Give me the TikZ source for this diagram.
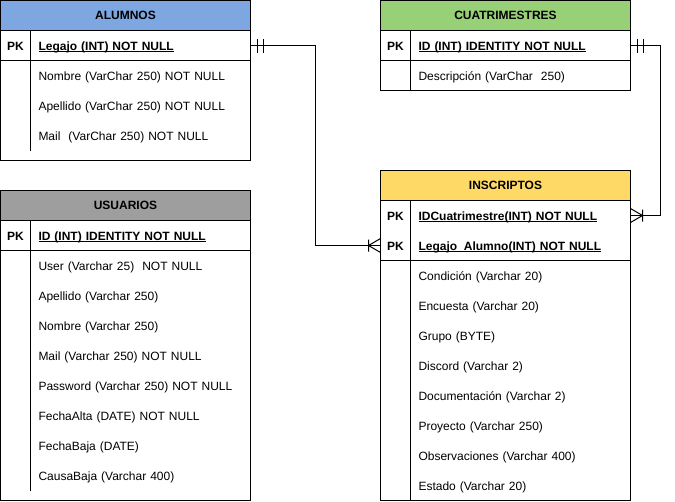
\documentclass[tikz,border=0pt]{standalone}
\usepackage{fontspec}
\setmainfont{Liberation Sans}
\usetikzlibrary{positioning}

\definecolor{alumnoscolor}{HTML}{7EA6E0}
\definecolor{cuatricolor}{HTML}{97D077}
\definecolor{usuarioscolor}{HTML}{9E9E9E}
\definecolor{inscriptoscolor}{HTML}{FFD966}

\newcommand{\tabfont}{\fontsize{12}{14}\selectfont}
\newcommand{\keyul}[1]{\setbox0\hbox{#1}\rlap{\rule[-1.4pt]{\wd0}{0.8pt}}\box0}

\begin{document}
\begin{tikzpicture}[x=1pt, y=-1pt, line width=1pt]
		\tikzset{
			table/.style={draw, anchor=north west, minimum width=250, inner sep=0, outer sep=0},
			head/.style={table, minimum height=30, font=\tabfont\bfseries},
			field/.style={anchor=west, text width=210, align=left, inner sep=0, outer sep=0, minimum height=30, text height=10pt, text depth=0pt, font=\tabfont},
			keyfield/.style={field, font=\tabfont\bfseries},
			pk/.style={inner sep=0, text height=9.5pt, text depth=0pt, font=\tabfont\bfseries},
			relation/.style={draw, line width=1pt},
			mandone/.pic={\draw (7,-7) -- (7,7) (13,-7) -- (13,7);},
			crowmany/.pic={\draw (0,-7) -- (12,0) -- (0,7) (12,-6) -- (12,6);}
		}
		\useasboundingbox (-0.5,-0.5) rectangle (674.5,500.5);

		% ALUMNOS
		\node[head, fill=alumnoscolor] (alumnos) at (0,0) {ALUMNOS};
		\node[table, minimum height=30, below=0 of alumnos] (alumnos-keys) {};
		\node[table, minimum height=100, below=0 of alumnos-keys] (alumnos-body) {};
		\draw ([xshift=30pt]alumnos-keys.north west) -- ([xshift=30pt, yshift=10pt]alumnos-body.south west);
		\node[pk] (alumnos-pk) at ([xshift=15pt]alumnos-keys.west) {PK};
		\node[keyfield] (alumnos-legajo) at ([xshift=38pt]alumnos-keys.west) {\keyul{Legajo (INT) NOT NULL}};
		\node[field, below=0 of alumnos-legajo] (alumnos-nombre) {Nombre (VarChar 250) NOT NULL};
		\node[field, below=0 of alumnos-nombre] (alumnos-apellido) {Apellido (VarChar 250) NOT NULL};
		\node[field, below=0 of alumnos-apellido] (alumnos-mail) {Mail\ \ (VarChar 250) NOT NULL};

		% CUATRIMESTRES
		\node[head, fill=cuatricolor] (cuatri) at (380,0) {CUATRIMESTRES};
		\node[table, minimum height=30, below=0 of cuatri] (cuatri-keys) {};
		\node[table, minimum height=30, below=0 of cuatri-keys] (cuatri-body) {};
		\draw ([xshift=30pt]cuatri-keys.north west) -- ([xshift=30pt]cuatri-body.south west);
		\node[pk] (cuatri-pk) at ([xshift=15pt]cuatri-keys.west) {PK};
		\node[keyfield] (cuatri-id) at ([xshift=38pt]cuatri-keys.west) {\keyul{ID (INT) IDENTITY NOT NULL}};
		\node[field, below=0 of cuatri-id] (cuatri-desc) {Descripción (VarChar\ \ 250)};

		% USUARIOS
		\node[head, fill=usuarioscolor] (usuarios) at (0,190) {USUARIOS};
		\node[table, minimum height=30, below=0 of usuarios] (usuarios-keys) {};
		\node[table, minimum height=250, below=0 of usuarios-keys] (usuarios-body) {};
		\draw ([xshift=30pt]usuarios-keys.north west) -- ([xshift=30pt, yshift=10pt]usuarios-body.south west);
		\node[pk] (usuarios-pk) at ([xshift=15pt]usuarios-keys.west) {PK};
		\node[keyfield] (usuarios-id) at ([xshift=38pt]usuarios-keys.west) {\keyul{ID (INT) IDENTITY NOT NULL}};
		\node[field, below=0 of usuarios-id] (usuarios-user) {User (Varchar 25)\ \ NOT NULL};
		\node[field, below=0 of usuarios-user] (usuarios-apellido) {Apellido (Varchar 250)};
		\node[field, below=0 of usuarios-apellido] (usuarios-nombre) {Nombre (Varchar 250)};
		\node[field, below=0 of usuarios-nombre] (usuarios-mail) {Mail (Varchar 250) NOT NULL};
		\node[field, below=0 of usuarios-mail] (usuarios-password) {Password (Varchar 250) NOT NULL};
		\node[field, below=0 of usuarios-password] (usuarios-alta) {FechaAlta (DATE) NOT NULL};
		\node[field, below=0 of usuarios-alta] (usuarios-baja) {FechaBaja (DATE)};
		\node[field, below=0 of usuarios-baja] (usuarios-causa) {CausaBaja (Varchar 400)};

		% INSCRIPTOS
		\node[head, fill=inscriptoscolor] (inscriptos) at (380,170) {INSCRIPTOS};
		\node[table, minimum height=60, below=0 of inscriptos] (inscriptos-keys) {};
		\node[table, minimum height=240, below=0 of inscriptos-keys] (inscriptos-body) {};
		\draw ([xshift=30pt]inscriptos-keys.north west) -- ([xshift=30pt]inscriptos-body.south west);
		\node[keyfield] (inscriptos-cuatri) at ([xshift=38pt, yshift=-15pt]inscriptos-keys.north west) {\keyul{IDCuatrimestre(INT) NOT NULL}};
		\node[keyfield, below=0 of inscriptos-cuatri] (inscriptos-legajo) {\keyul{Legajo\_Alumno(INT) NOT NULL}};
		\node[pk] (inscriptos-pk1) at ([xshift=15pt]inscriptos-keys.west |- inscriptos-cuatri) {PK};
		\node[pk] (inscriptos-pk2) at ([xshift=15pt]inscriptos-keys.west |- inscriptos-legajo) {PK};
		\node[field] (inscriptos-condicion) at ([xshift=38pt, yshift=-15pt]inscriptos-body.north west) {Condición (Varchar 20)};
		\node[field, below=0 of inscriptos-condicion] (inscriptos-encuesta) {Encuesta (Varchar 20)};
		\node[field, below=0 of inscriptos-encuesta] (inscriptos-grupo) {Grupo (BYTE)};
		\node[field, below=0 of inscriptos-grupo] (inscriptos-discord) {Discord (Varchar 2)};
		\node[field, below=0 of inscriptos-discord] (inscriptos-doc) {Documentación (Varchar 2)};
		\node[field, below=0 of inscriptos-doc] (inscriptos-proyecto) {Proyecto (Varchar 250)};
		\node[field, below=0 of inscriptos-proyecto] (inscriptos-obs) {Observaciones (Varchar 400)};
		\node[field, below=0 of inscriptos-obs] (inscriptos-estado) {Estado (Varchar 20)};

		% relations
		\draw[relation] (alumnos-keys.east) -- ++(65,0) |- (inscriptos-keys.west |- inscriptos-legajo);
		\draw[relation] (cuatri-keys.east) -- ++(30,0) |- (inscriptos-keys.east |- inscriptos-cuatri);
		\pic at (alumnos-keys.east) {mandone};
		\pic at (cuatri-keys.east) {mandone};
		\pic[rotate=180] at (inscriptos-keys.west |- inscriptos-legajo) {crowmany};
		\pic at (inscriptos-keys.east |- inscriptos-cuatri) {crowmany};
	\end{tikzpicture}
\end{document}
